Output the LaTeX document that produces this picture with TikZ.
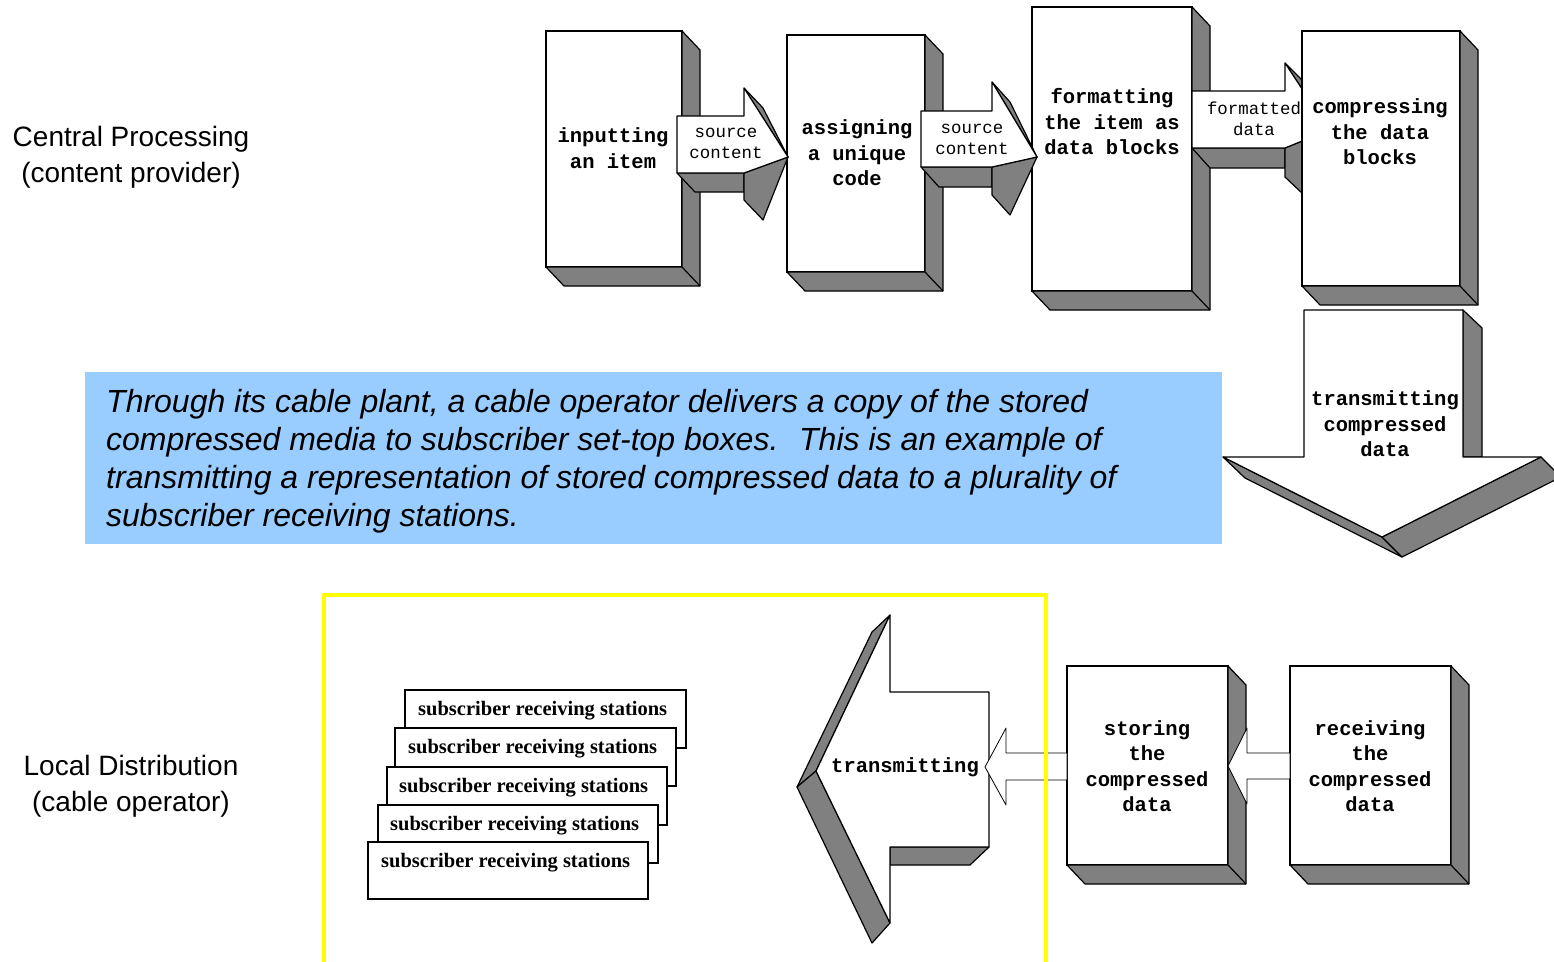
\documentclass[tikz,border=0pt]{standalone}
\usepackage{fontspec}
\newfontfamily\sansf{Liberation Sans}
\newfontfamily\monof{Liberation Mono}
\newfontfamily\seriff{Liberation Serif}
\definecolor{shade3d}{HTML}{808080}
\definecolor{skyfill}{HTML}{99CCFF}
\definecolor{frameyellow}{HTML}{FFFF00}
\tikzset{
 front/.style={draw=black, fill=white, line width=1.2pt, inner sep=0pt, outer sep=0pt},
 side/.style={draw=black, fill=shade3d, line width=1.2pt, line join=round},
 face/.style={draw=black, fill=white, line width=1.2pt, line join=round},
 thinarrow/.style={draw=black, fill=white, line width=0.8pt, line join=round},
 boxtxt/.style={font=\monof\bfseries\fontsize{20.5}{25.5}\selectfont, align=center, inner sep=0pt},
 arrtxt/.style={font=\monof\fontsize{17.4}{21}\selectfont, align=center, inner sep=0pt},
 sidelabel/.style={font=\sansf\fontsize{28}{36}\selectfont, align=center, inner sep=0pt},
 subbox/.style={draw=black, fill=white, line width=1.2pt, minimum width=281pt, minimum height=58pt, inner sep=0pt, outer sep=0pt, anchor=north west},
 subtxt/.style={font=\seriff\bfseries\fontsize{20.5}{24}\selectfont, inner sep=0pt, anchor=base west},
}
\newcommand\extrude[1]{%
 \filldraw[side] (#1.north east) -- ++(18,19) -- ([shift={(18,19)}]#1.south east) -- ([shift={(18,19)}]#1.south west) -- (#1.south west) -- (#1.south east) -- cycle;
 \draw[line width=1.2pt] (#1.south east) -- ++(18,19);
}
\begin{document}
\begin{tikzpicture}[x=1pt,y=-1pt]
\useasboundingbox (0,0) rectangle (1554,961);
% blue text panel
\fill[skyfill] (85,372) rectangle (1222,544);
\node[font=\sansf\itshape\fontsize{32}{38}\selectfont, align=left, anchor=north west, inner sep=0pt] (para) at (106,389)
 {Through its cable plant, a cable operator delivers a copy of the stored\\
  compressed media to subscriber set-top boxes.~ This is an example of\\
  transmitting a representation of stored compressed data to a plurality of\\
  subscriber receiving stations.};
% side labels
\node[sidelabel] (central) at (131,157) {Central Processing\\(content provider)};
\node[sidelabel] (local) at (131,786) {Local Distribution\\(cable operator)};
% top row boxes
\node[front, minimum width=136pt, minimum height=236pt] (b1) at (614,149) {};
\extrude{b1}
\node[front, minimum width=138pt, minimum height=237pt] (b2) at (856,153.5) {};
\extrude{b2}
\node[front, minimum width=160pt, minimum height=284pt] (b3) at (1112,149) {};
\extrude{b3}
\node[boxtxt] (t1) at (613,148) {inputting\\an item};
\node[boxtxt] (t2) at (857,153) {assigning\\a unique\\code};
\node[boxtxt] (t3) at (1112,122) {formatting\\the item as\\data blocks};
% arrow 1
\filldraw[side] (677,173) -- (695,192) -- (744,192) -- (744,173) -- cycle;
\filldraw[side] (744,88) -- (763,108) -- (788,157) -- cycle;
\filldraw[side] (744,173) -- (788,157) -- (763,220) -- (744,200) -- cycle;
\filldraw[face] (677,116) -- (744,116) -- (744,88) -- (788,157) -- (744,173) -- (677,173) -- cycle;
\node[arrtxt] (a1) at (726,143) {source\\content};
% arrow 2
\filldraw[side] (921,167) -- (939,187) -- (992,187) -- (992,167) -- cycle;
\filldraw[side] (992,82) -- (1010,102) -- (1037,157) -- cycle;
\filldraw[side] (992,167) -- (1037,157) -- (1010,215) -- (992,195) -- cycle;
\filldraw[face] (921,111) -- (992,111) -- (992,82) -- (1037,157) -- (992,167) -- (921,167) -- cycle;
\node[arrtxt] (a2) at (972,139) {source\\content};
% arrow 3
\filldraw[side] (1192,148) -- (1210,168) -- (1285,168) -- (1285,148) -- cycle;
\filldraw[side] (1285,63) -- (1303,81) -- (1329,130) -- cycle;
\filldraw[side] (1285,148) -- (1329,130) -- (1304,195) -- (1285,177) -- cycle;
\filldraw[face] (1192,91) -- (1285,91) -- (1285,63) -- (1329,130) -- (1285,148) -- (1192,148) -- cycle;
\node[arrtxt] (a3) at (1254,119) {formatted\\data};
% box 4
\node[front, minimum width=158pt, minimum height=255pt] (b4) at (1381,158.5) {};
\extrude{b4}
\node[boxtxt] (t4) at (1380,132) {compressing\\the data\\blocks};
% down arrow
\filldraw[side] (1463,310) -- (1482,328) -- (1482,457) -- (1463,457) -- cycle;
\filldraw[side] (1223,457) -- (1245,478) -- (1402,557) -- (1382,537) -- cycle;
\filldraw[side] (1382,537) -- (1402,557) -- (1561,477) -- (1541,457) -- cycle;
\filldraw[face] (1304,310) -- (1463,310) -- (1463,457) -- (1541,457) -- (1382,537) -- (1223,457) -- (1304,457) -- cycle;
\node[boxtxt] (t5) at (1385,424) {transmitting\\compressed\\data};
% subscriber stations
\node[subbox] (s1) at (405,690) {};
\node[subtxt] (s1t) at (418,715) {subscriber receiving stations};
\node[subbox] (s2) at (395,728) {};
\node[subtxt] (s2t) at (408,753) {subscriber receiving stations};
\node[subbox, minimum width=280pt] (s3) at (387,767) {};
\node[subtxt] (s3t) at (399,792) {subscriber receiving stations};
\node[subbox, minimum width=280pt] (s4) at (378,805) {};
\node[subtxt] (s4t) at (390,830) {subscriber receiving stations};
\node[subbox, minimum width=280pt, minimum height=57pt] (s5) at (368,842) {};
\node[subtxt] (s5t) at (381,867) {subscriber receiving stations};
% big left arrow
\filldraw[side] (890,615) -- (872,632) -- (797,787) -- (816,771) -- cycle;
\filldraw[side] (797,787) -- (816,771) -- (890,923) -- (872,943) -- cycle;
\filldraw[side] (890,847) -- (989,847) -- (970,865) -- (890,865) -- cycle;
\filldraw[face] (890,615) -- (890,692) -- (989,692) -- (989,847) -- (890,847) -- (890,923) -- (816,771) -- cycle;
\node[boxtxt] (t6) at (905,767) {transmitting};
% storing and receiving
\node[front, minimum width=161pt, minimum height=199pt] (st) at (1147.5,765.5) {};
\extrude{st}
\node[front, minimum width=161pt, minimum height=199pt] (rc) at (1370.5,765.5) {};
\extrude{rc}
\node[boxtxt] (t7) at (1147,766) {storing\\the\\compressed\\data};
\node[boxtxt] (t8) at (1370,766) {receiving\\the\\compressed\\data};
\filldraw[thinarrow] (st.west |- 0,753) -- (1006,753) -- (1006,728) -- (985,767) -- (1006,805) -- (1006,780) -- (st.west |- 0,780) -- cycle;
\filldraw[thinarrow] (rc.west |- 0,753) -- (1247,753) -- (1247,728) -- (1228,766) -- (1247,804) -- (1247,779) -- (rc.west |- 0,779) -- cycle;
% yellow frame
\draw[frameyellow, line width=4pt] (324,595) rectangle (1046,975);
\end{tikzpicture}
\end{document}
